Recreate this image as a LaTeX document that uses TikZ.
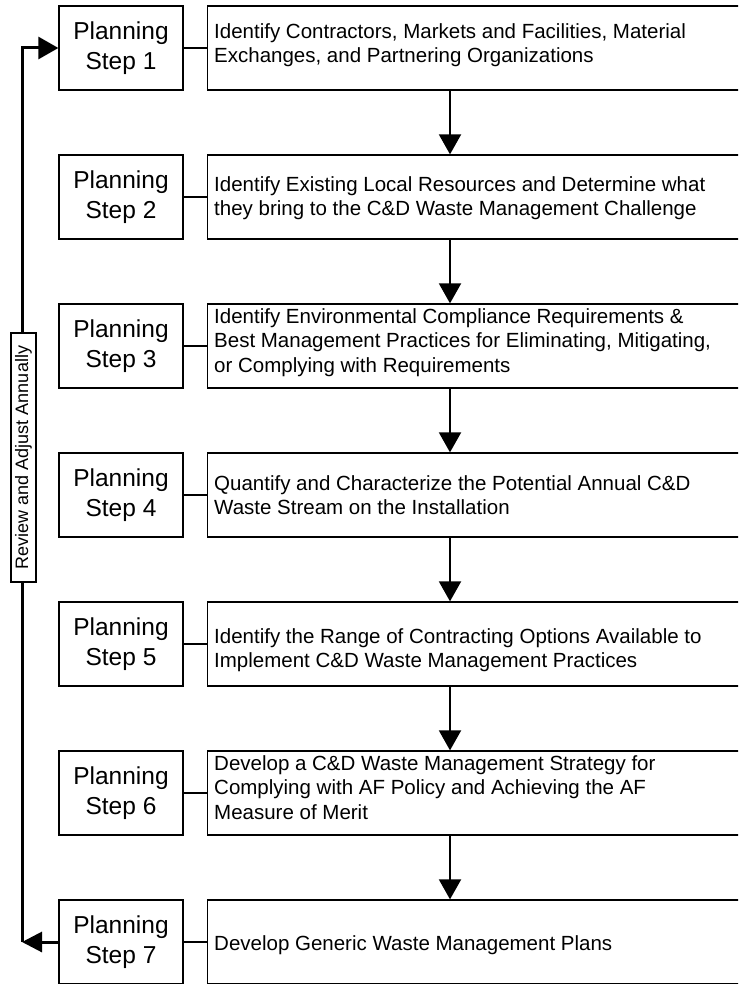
\documentclass[tikz,border=0pt]{standalone}
\usepackage{fontspec}
\setmainfont{Liberation Sans}
\usetikzlibrary{arrows.meta}
\begin{document}
\begin{tikzpicture}[x=1pt,y=-1pt,
  plan/.style={draw, line width=1.3pt, minimum width=124pt, minimum height=84pt,
    inner sep=0pt, align=center, font=\fontsize{24.5}{30}\selectfont},
  task/.style={draw, line width=1.3pt, minimum width=560pt, minimum height=84pt,
    anchor=west, inner sep=0pt},
  tasktext/.style={anchor=north west, inner sep=0pt, align=left,
    font=\fontsize{20.5}{24.5}\selectfont},
  link/.style={line width=1.3pt},
  flow/.style={line width=2pt, -{Triangle[width=22pt,length=20pt]}},
  cycle/.style={line width=3pt, line join=miter},
  review/.style={draw, fill=white, line width=1.5pt, rotate=90, minimum width=249pt,
    minimum height=25pt, inner sep=0pt, font=\fontsize{18}{22}\selectfont},
]
\useasboundingbox (0,0) rectangle (738,984);
\clip (0,0) rectangle (738,984);

% reference columns
\coordinate (ax) at (450,0);
\coordinate (lx) at (22,0);

% planning steps and their task boxes
\foreach \i/\m in {1/48,2/197,3/346,4/495,5/644,6/793,7/942} {
  \node[plan] (p\i) at (121,\m) {Planning\\Step \i};
  \node[task] (t\i) at (207,\m) {};
  \draw[link] (p\i.east) -- (t\i.west);
}

% task descriptions (top edge = first baseline - strut height)
\newcommand{\tasklines}[3]{\node[tasktext] (#1) at (214,#2-17.15) {\strut#3};}
\tasklines{d1}{38}{Identify Contractors, Markets and Facilities, Material\\Exchanges, and Partnering Organizations}
\tasklines{d2}{191}{Identify Existing Local Resources and Determine what\\they bring to the C\&D Waste Management Challenge}
\tasklines{d3}{323}{Identify Environmental Compliance Requirements \&\\Best Management Practices for Eliminating, Mitigating,\\or Complying with Requirements}
\tasklines{d4}{490}{Quantify and Characterize the Potential Annual C\&D\\Waste Stream on the Installation}
\tasklines{d5}{643}{Identify the Range of Contracting Options Available to\\Implement C\&D Waste Management Practices}
\tasklines{d6}{770}{Develop a C\&D Waste Management Strategy for\\Complying with AF Policy and Achieving the AF\\Measure of Merit}
\tasklines{d7}{950}{Develop Generic Waste Management Plans}

% downward flow between task boxes
\foreach \a/\b in {1/2,2/3,3/4,4/5,5/6,6/7}
  \draw[flow] (t\a.south -| ax) -- (t\b.north -| ax);

% annual review loop
\draw[cycle, -{Triangle[width=20pt,length=20pt]}] (p7.west) -- (p7.west -| lx);
\draw[cycle, -{Triangle[width=22pt,length=20pt]}] (p7.west -| lx) -- (p1.west -| lx) -- (p1.west);
\node[review] (rv) at (23.5,457.5) {Review and Adjust Annually};
\end{tikzpicture}
\end{document}
